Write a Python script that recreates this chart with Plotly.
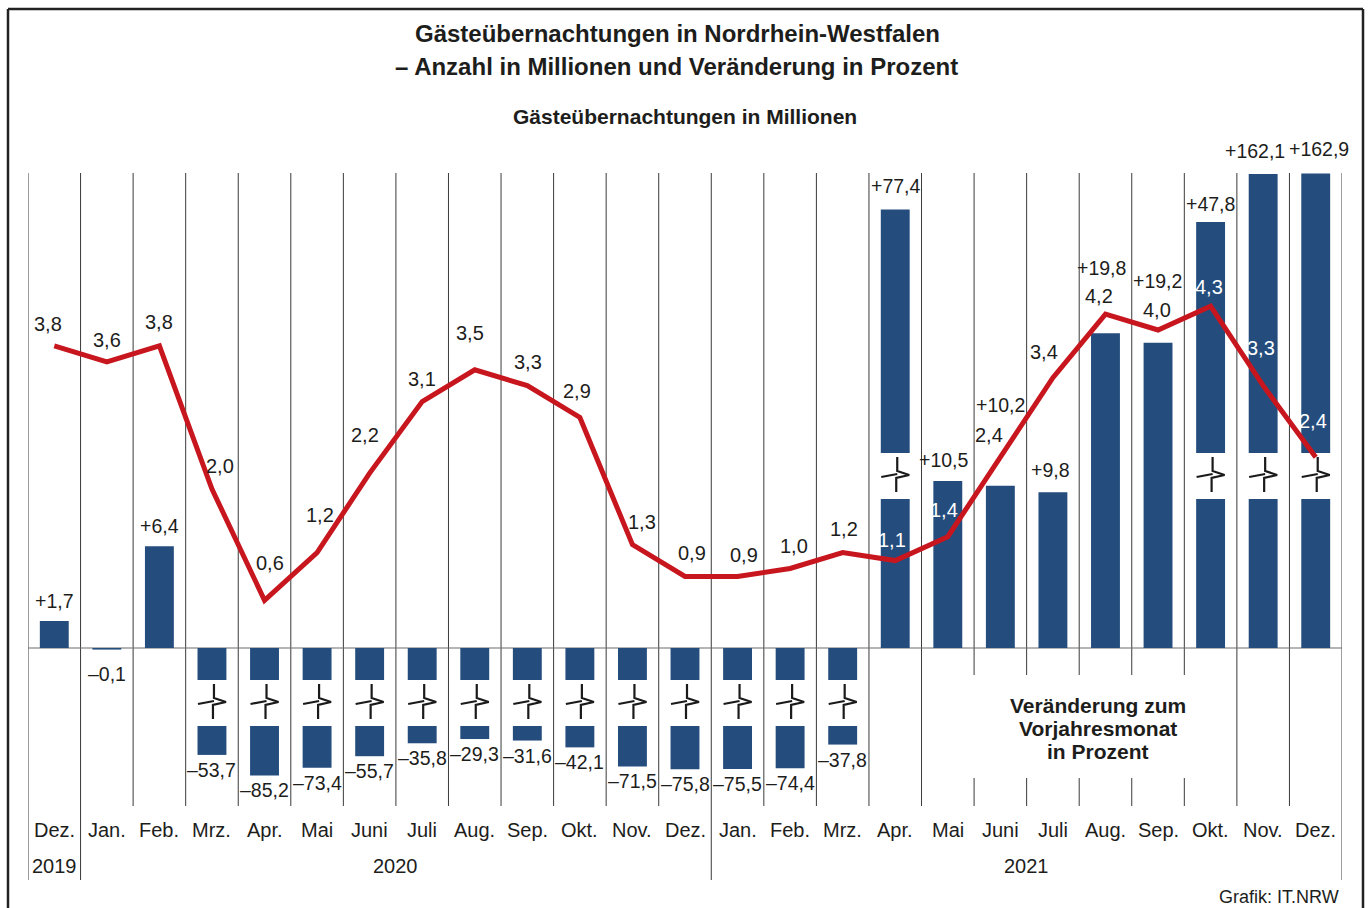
import plotly.graph_objects as go

# ---------------- data ----------------
months = ["Dez.", "Jan.", "Feb.", "Mrz.", "Apr.", "Mai", "Juni", "Juli", "Aug.", "Sep.", "Okt.", "Nov.", "Dez.",
          "Jan.", "Feb.", "Mrz.", "Apr.", "Mai", "Juni", "Juli", "Aug.", "Sep.", "Okt.", "Nov.", "Dez."]
years = ["2019", "2020", "2021"]
year_first_idx = [0, 1, 13]
year_last_idx = [0, 12, 24]
stays_mio = [3.8, 3.6, 3.8, 2.0, 0.6, 1.2, 2.2, 3.1, 3.5, 3.3, 2.9, 1.3, 0.9,
             0.9, 1.0, 1.2, 1.1, 1.4, 2.4, 3.4, 4.2, 4.0, 4.3, 3.3, 2.4]
change_pct = [1.7, -0.1, 6.4, -53.7, -85.2, -73.4, -55.7, -35.8, -29.3, -31.6, -42.1, -71.5, -75.8,
              -75.5, -74.4, -37.8, 77.4, 10.5, 10.2, 9.8, 19.8, 19.2, 47.8, 162.1, 162.9]
legend_lines = ["Veränderung zum", "Vorjahresmonat", "in Prozent"]

# ---------------- geometry / style ----------------
W, H = 1370, 908
PL, PR, PT, PB = 28, 1342, 173, 806        # plot area in px
ZERO_PX = 648
PX_PER_PCT = 15.9
PCT_PER_MIO = 5.0
N = len(months)
COLW = (PR - PL) / N

BAR_COLOR = "#244D7E"
LINE_COLOR = "#C8161E"
TXT = "#1d1d1b"
FONT = "Liberation Sans, Arial, sans-serif"

y_top = (ZERO_PX - PT) / PX_PER_PCT
y_bot = -(PB - ZERO_PX) / PX_PER_PCT

BREAK_LIMIT = 25
NEG_GAP = (32, 78)     # px below zero
POS_GAP = (149, 195)   # px above zero


def is_broken(v):
    return abs(v) > BREAK_LIMIT


def shown(v):
    """value on the (broken) display axis"""
    if not is_broken(v):
        return v
    if v < 0:
        return -(72 + 0.65 * abs(v)) / PX_PER_PCT
    return (406 + 0.42 * v) / PX_PER_PCT


def px2py(ypx):
    return (PB - ypx) / (PB - PT)


def px2px(xpx):
    return (xpx - PL) / (PR - PL)


def fmt(v, sign=False):
    s = f"{abs(v):.1f}".replace(".", ",")
    if v < 0:
        return "\u2013" + s
    return ("+" + s) if sign else s


xs = list(range(N))

# bars: upper/full segment and lower segment for broken bars
seg1_base, seg1_len, seg2_base, seg2_len = [], [], [], []
for v in change_pct:
    if is_broken(v):
        sgn = -1 if v < 0 else 1
        gap = NEG_GAP if v < 0 else POS_GAP
        g0 = sgn * gap[0] / PX_PER_PCT
        g1 = sgn * gap[1] / PX_PER_PCT
        seg1_base.append(0)
        seg1_len.append(g0)
        seg2_base.append(g1)
        seg2_len.append(shown(v) - g1)
    else:
        seg1_base.append(0)
        seg1_len.append(v)
        seg2_base.append(0)
        seg2_len.append(None)

fig = go.Figure()
fig.add_trace(go.Bar(x=xs, y=seg1_len, base=seg1_base, width=0.55,
                     marker=dict(color=BAR_COLOR, line=dict(width=0)), showlegend=False,
                     hoverinfo="skip"))
fig.add_trace(go.Bar(x=xs, y=seg2_len, base=seg2_base, width=0.55,
                     marker=dict(color=BAR_COLOR, line=dict(width=0)), showlegend=False,
                     hoverinfo="skip"))

# break symbols
SYM_A = [(2, -19), (2, -5), (14, -1), (1, 2), (1, 16)]
SYM_B = [(-14, 1), (2, -2)]
bx, by = [], []
for i, v in enumerate(change_pct):
    if not is_broken(v):
        continue
    gap = NEG_GAP if v < 0 else POS_GAP
    cy_px = (gap[0] + gap[1]) / 2 * (-1 if v < 0 else 1)
    for poly in (SYM_A, SYM_B):
        for dx, dy in poly:
            bx.append(i + dx / COLW)
            by.append((cy_px - dy) / PX_PER_PCT)
        bx.append(None)
        by.append(None)
fig.add_trace(go.Scatter(x=bx, y=by, mode="lines", line=dict(color="#1a1a1a", width=2.2),
                         showlegend=False, hoverinfo="skip"))

# red line (millions)
fig.add_trace(go.Scatter(x=xs, y=stays_mio, yaxis="y2", mode="lines",
                         line=dict(color=LINE_COLOR, width=5), showlegend=False,
                         hoverinfo="skip"))

shapes = []
# vertical grid lines
for k in range(N + 1):
    xb = k - 0.5
    long_line = k in (0, 1, 13, N)
    shapes.append(dict(type="line", xref="x", yref="paper", x0=xb, x1=xb,
                       y0=px2py(880) if long_line else 0, y1=1,
                       line=dict(color="#3a3a3a", width=1), layer="below"))
# white legend box covering grid lines
shapes.append(dict(type="rect", xref="x", yref="y", x0=17.45, x1=22.45,
                   y0=-(675 - ZERO_PX) / PX_PER_PCT, y1=-(778 - ZERO_PX) / PX_PER_PCT,
                   fillcolor="white", line=dict(width=0), layer="below"))
# zero line
shapes.append(dict(type="line", xref="paper", yref="y", x0=0, x1=1, y0=0, y1=0,
                   line=dict(color="#6d6d6d", width=1.2), layer="below"))
# outer frame
fx0, fx1 = px2px(8), px2px(1363)
fy0, fy1 = px2py(908), px2py(9)
for (a, b, c, d) in [(fx0, fy0, fx0, fy1), (fx0, fy1, fx1, fy1), (fx1, fy1, fx1, fy0)]:
    shapes.append(dict(type="line", xref="paper", yref="paper", x0=a, y0=b, x1=c, y1=d,
                       line=dict(color="#222222", width=2.5), layer="below"))

ann = []
# line labels
line_off = [(-6, -22), (0, -22), (0, -24), (8, -23), (5, -37), (3, -38), (-5, -38), (0, -23),
            (-5, -37), (1, -24), (-3, -26), (10, -23), (7, -23), (6, -21), (4, -23), (1, -24),
            (-3, -21), (-4, -27), (-11, -22), (-9, -26), (-6, -18), (-1, -20), (-2, -19),
            (-2, -38), (-3, -36)]
white_line_lbl = {16, 17, 22, 23, 24}
for i, v in enumerate(stays_mio):
    dx, dy = line_off[i]
    ann.append(dict(x=i, y=v, xref="x", yref="y2", text=fmt(v), showarrow=False,
                    xshift=dx, yshift=-dy, xanchor="center", yanchor="middle",
                    font=dict(family=FONT, size=20,
                              color="white" if i in white_line_lbl else TXT)))
# bar labels
bar_off = {1: (0, 24), 16: (0, -23), 17: (-4, -21), 18: (0, -81), 19: (-2, -22),
           20: (-4, -65), 21: (-1, -62), 22: (0, -18), 23: (-8, -23), 24: (3, -25)}
for i, v in enumerate(change_pct):
    if i in bar_off:
        dx, dy = bar_off[i]
    else:
        dx, dy = (0, -20) if v >= 0 else (0, 15)
    ann.append(dict(x=i, y=shown(v), xref="x", yref="y", text=fmt(v, sign=True),
                    showarrow=False, xshift=dx, yshift=-dy, xanchor="center",
                    yanchor="middle", font=dict(family=FONT, size=19.5, color=TXT)))
# month + year labels
for i, m in enumerate(months):
    ann.append(dict(x=i, y=px2py(830), xref="x", yref="paper", text=m, showarrow=False,
                    xanchor="center", yanchor="middle", font=dict(family=FONT, size=20, color=TXT)))
for yname, a, b in zip(years, year_first_idx, year_last_idx):
    ann.append(dict(x=(a + b) / 2, y=px2py(866), xref="x", yref="paper", text=yname,
                    showarrow=False, xanchor="center", yanchor="middle",
                    font=dict(family=FONT, size=20, color=TXT)))
# titles
ann.append(dict(x=px2px(677), y=px2py(34), xref="paper", yref="paper", showarrow=False,
                text="<b>Gästeübernachtungen in Nordrhein-Westfalen</b>",
                xanchor="center", yanchor="middle", font=dict(family=FONT, size=24, color=TXT)))
ann.append(dict(x=px2px(676), y=px2py(66), xref="paper", yref="paper", showarrow=False,
                text="<b>\u2013 Anzahl in Millionen und Veränderung in Prozent</b>",
                xanchor="center", yanchor="middle", font=dict(family=FONT, size=24, color=TXT)))
ann.append(dict(x=px2px(685), y=px2py(117), xref="paper", yref="paper", showarrow=False,
                text="<b>Gästeübernachtungen in Millionen</b>",
                xanchor="center", yanchor="middle", font=dict(family=FONT, size=21, color=TXT)))
for j, t in enumerate(legend_lines):
    ann.append(dict(x=19.85, y=px2py(705 + 23 * j), xref="x", yref="paper", showarrow=False,
                    text=f"<b>{t}</b>", xanchor="center", yanchor="middle",
                    font=dict(family=FONT, size=21, color=TXT)))
ann.append(dict(x=px2px(1341), y=px2py(897), xref="paper", yref="paper", showarrow=False,
                text="Grafik: IT.NRW", xanchor="right", yanchor="middle",
                font=dict(family=FONT, size=18, color=TXT)))

fig.update_layout(
    width=W, height=H, autosize=False,
    margin=dict(l=PL, r=W - PR, t=PT, b=H - PB, pad=0),
    paper_bgcolor="white", plot_bgcolor="white",
    barmode="overlay", showlegend=False,
    xaxis=dict(range=[-0.5, N - 0.5], visible=False, fixedrange=True),
    yaxis=dict(range=[y_bot, y_top], visible=False, fixedrange=True),
    yaxis2=dict(range=[y_bot / PCT_PER_MIO, y_top / PCT_PER_MIO], overlaying="y",
                visible=False, fixedrange=True),
    shapes=shapes, annotations=ann,
)

fig.write_html("out.html", config={"staticPlot": True},
               post_script="document.body.style.margin='0';document.body.style.overflow='hidden';")
